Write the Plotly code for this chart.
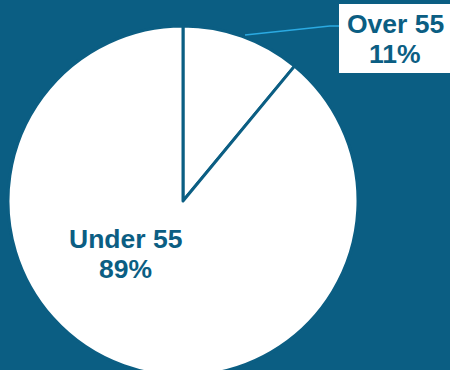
import plotly.graph_objects as go

labels = ["Over 55", "Under 55"]
values = [11, 89]
pct_text = ["11%", "89%"]

BG = "#0B5E83"
W, H = 450, 380
cx, cy_top, r = 183, 201, 175
cy = H - cy_top

def px(x):
    return x / W

def py(y):
    return (H - y) / H

fig = go.Figure(go.Pie(
    labels=labels, values=values, sort=False, direction="clockwise", rotation=0,
    marker=dict(colors=["#FFFFFF", "#FFFFFF"], line=dict(color=BG, width=3)),
    textinfo="none", hoverinfo="label+percent", showlegend=False,
    domain=dict(x=[px(cx - r), px(cx + r)], y=[max(0, (cy - r) / H), min(1, (cy + r) / H)]),
))

font = dict(family="Liberation Sans, Arial, sans-serif", size=26.5, color=BG)

# label box and leader line for the small slice
fig.add_shape(type="rect", xref="paper", yref="paper",
              x0=px(339), x1=px(452), y0=py(73), y1=py(4),
              fillcolor="#FFFFFF", line=dict(width=0), layer="above")
fig.add_shape(type="path", xref="paper", yref="paper",
              path="M %f,%f L %f,%f L %f,%f" % (px(245), py(35), px(330), py(26), px(339), py(26)),
              line=dict(color="#2BAAE2", width=1.5), layer="above")

label_lines = [
    (labels[0], 395, 24), (pct_text[0], 395, 54),
    (labels[1], 125, 238.5), (pct_text[1], 125, 269),
]
for txt, x, y in label_lines:
    fig.add_annotation(x=px(x), y=py(y), xref="paper", yref="paper",
                       text="<b>%s</b>" % txt, showarrow=False, font=font,
                       xanchor="center", yanchor="middle")

fig.update_layout(width=W, height=H, margin=dict(l=0, r=0, t=0, b=0),
                  paper_bgcolor=BG, plot_bgcolor=BG)
fig.write_html("out.html",
               config={"displayModeBar": False},
               post_script="document.body.style.margin='0';"
                           "document.body.style.overflow='hidden';"
                           "document.documentElement.style.overflow='hidden';")
